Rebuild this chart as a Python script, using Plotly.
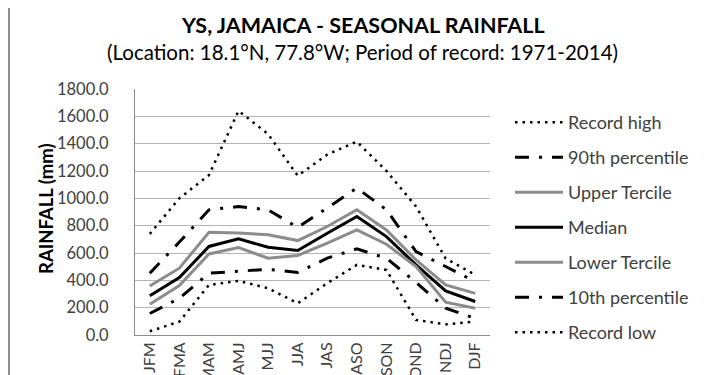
import plotly.graph_objects as go

seasons = ["JFM", "FMA", "MAM", "AMJ", "MJJ", "JJA", "JAS", "ASO", "SON", "OND", "NDJ", "DJF"]
record_high = [740, 1000, 1170, 1640, 1470, 1165, 1320, 1415, 1200, 940, 560, 440]
p90 = [452, 680, 916, 940, 916, 787, 930, 1075, 916, 610, 501, 391]
upper_tercile = [359, 489, 752, 747, 733, 691, 794, 916, 769, 549, 366, 305]
median = [287, 420, 648, 703, 642, 618, 745, 867, 720, 513, 322, 245]
lower_tercile = [225, 362, 593, 640, 562, 582, 672, 769, 664, 501, 240, 196]
p10 = [157, 269, 452, 469, 481, 458, 562, 630, 562, 385, 196, 122]
record_low = [27, 98, 366, 396, 342, 232, 379, 513, 476, 110, 78, 98]

series = [
    ("Record high", record_high, "black", 2.5, "2.5px,5px"),
    ("90th percentile", p90, "black", 3, "14px,10px,3px,10px"),
    ("Upper Tercile", upper_tercile, "#8c8c8c", 3, "solid"),
    ("Median", median, "black", 3, "solid"),
    ("Lower Tercile", lower_tercile, "#8c8c8c", 3, "solid"),
    ("10th percentile", p10, "black", 3, "14px,10px,3px,10px"),
    ("Record low", record_low, "black", 2.5, "2.5px,5px"),
]

FONT = "Lato, Calibri, sans-serif"

fig = go.Figure()
for i, (name, vals, color, w, dash) in enumerate(series):
    fig.add_trace(go.Scatter(
        x=seasons, y=vals, mode="lines", name=name, legendgroup=f"g{i}",
        line=dict(color=color, width=w, dash=dash),
    ))

L, R, T, B = 127, 228, 81, 48
W = 710 - L - R
H = 375 - T - B

def px_x(px):
    return (px - L) / W

def px_y(py):
    return (375 - B - py) / H

fig.update_layout(
    width=710, height=375,
    margin=dict(l=L, r=R, t=T, b=B, autoexpand=False),
    paper_bgcolor="white", plot_bgcolor="white",
    font=dict(family=FONT, size=15, color="#404040"),
    showlegend=True,
    legend=dict(
        x=px_x(502), y=px_y(96), xanchor="left", yanchor="top",
        traceorder="grouped", tracegroupgap=8.6, itemwidth=48, maxheight=360,
        font=dict(family=FONT, size=18, color="#404040"),
        bgcolor="rgba(0,0,0,0)",
    ),
    xaxis=dict(
        type="category", showgrid=False, showline=True, linecolor="#8c8c8c", linewidth=1,
        tickangle=-90, ticks="", tickfont=dict(family=FONT, size=16, color="#404040"),
        range=[-0.5, 11.5],
    ),
    yaxis=dict(
        range=[0, 1800], dtick=200, tickformat=".1f", showgrid=True, gridcolor="#b3b3b3",
        gridwidth=1, showline=True, linecolor="#8c8c8c", linewidth=1, ticks="",
        ticklabelstandoff=22, zeroline=False,
        tickfont=dict(family=FONT, size=16.5, color="#404040"),
    ),
    annotations=[
        dict(text="<b>YS, JAMAICA - SEASONAL RAINFALL</b>", x=px_x(355), y=px_y(17),
             xref="paper", yref="paper", showarrow=False, xanchor="center", yanchor="middle",
             font=dict(family=FONT, size=21.5, color="black")),
        dict(text="(Location: 18.1°N, 77.8°W; Period of record: 1971-2014)", x=px_x(354), y=px_y(44),
             xref="paper", yref="paper", showarrow=False, xanchor="center", yanchor="middle",
             font=dict(family=FONT, size=20.5, color="black")),
        dict(text="<b>RAINFALL (mm)</b>", x=px_x(38), y=px_y(201), textangle=-90,
             xref="paper", yref="paper", showarrow=False, xanchor="center", yanchor="middle",
             font=dict(family=FONT, size=18.5, color="black")),
    ],
    shapes=[
        dict(type="line", xref="paper", yref="paper", x0=px_x(1), x1=px_x(1), y0=px_y(0), y1=px_y(375),
             line=dict(color="#8c8c8c", width=2)),
        dict(type="line", xref="paper", yref="paper", x0=px_x(708.5), x1=px_x(708.5), y0=px_y(0), y1=px_y(375),
             line=dict(color="#8c8c8c", width=2)),
    ],
)

fig.write_html("out.html")
